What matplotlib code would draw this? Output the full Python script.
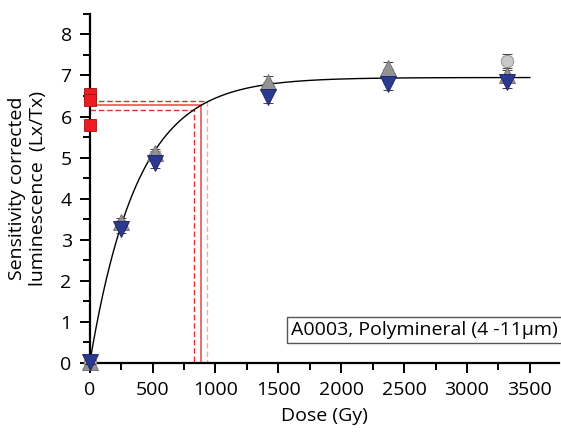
import matplotlib.pyplot as plt
import numpy as np
from matplotlib.ticker import MultipleLocator

plt.rcParams['font.family'] = ['Open Sans', 'DejaVu Sans']

# Regenerated doses (Gy) and sensitivity-corrected Lx/Tx for three aliquot groups
dose = [0, 247, 517, 1416, 2370, 3317]
grey_up = [0.03, 3.43, 5.10, 6.84, 7.17, 7.00]
grey_up_err = [0.05, 0.10, 0.12, 0.14, 0.15, 0.14]
light_circ = [0.03, 3.35, 5.05, 6.69, 7.00, 7.36]
light_circ_err = [0.05, 0.10, 0.12, 0.14, 0.15, 0.17]
navy_down = [0.02, 3.26, 4.87, 6.48, 6.80, 6.84]
navy_down_err = [0.05, 0.10, 0.12, 0.14, 0.15, 0.15]

# Natural signals (plotted at dose 0)
natural = [6.55, 6.40, 5.80]
natural_err = [0.08, 0.08, 0.08]

# Saturating exponential fit parameters
fit_a, fit_d0 = 6.95, 380.0

# Equivalent dose interpolation (Lx/Tx level and De with bounds)
ln_mid, ln_hi, ln_lo = 6.28, 6.38, 6.17
de_mid, de_lo, de_hi = 888, 830, 936

fig = plt.figure(figsize=(5.61, 4.34), dpi=100)
ax = fig.add_axes([0.160, 0.164, 0.836, 0.804])

xs = np.linspace(0, 3500, 400)
ax.plot(xs, fit_a * (1 - np.exp(-xs / fit_d0)), color='black', lw=1.0, zorder=2)

# interpolation lines
ax.plot([0, de_mid, de_mid], [ln_mid, ln_mid, 0], color='#f05050', lw=1.2, zorder=1)
ax.plot([0, de_hi], [ln_hi, ln_hi], color='#e82828', lw=1.0, ls=(0, (4, 2)), zorder=1)
ax.plot([de_hi, de_hi], [ln_hi, 0], color='#f5a8a8', lw=1.0, ls=(0, (4, 2)), zorder=1)
ax.plot([0, de_lo, de_lo], [ln_lo, ln_lo, 0], color='#e83030', lw=1.0, ls=(0, (4, 2)), zorder=1)

ebkw = dict(ls='none', capsize=3.5, elinewidth=0.8, capthick=0.9, ecolor='#222222', clip_on=False)
ax.errorbar(dose, light_circ, yerr=light_circ_err, marker='o', ms=9,
            mfc='#c8c8c8', mec='#8a8a8a', mew=0.6, zorder=3, **ebkw)
ax.errorbar(dose, grey_up, yerr=grey_up_err, marker='^', ms=12,
            mfc='#939393', mec='#6a6a6a', mew=0.6, zorder=4, **ebkw)
ax.errorbar(dose, navy_down, yerr=navy_down_err, marker='v', ms=12,
            mfc='#2b3990', mec='#1a2060', mew=0.6, zorder=5, **ebkw)
ax.errorbar([0] * len(natural), natural, yerr=natural_err, marker='s', ms=9,
            mfc='#ed1c24', mec='#a01010', mew=0.6, zorder=6, **ebkw)

ax.set_xlim(0, 3730)
ax.set_ylim(0, 8.5)
ax.xaxis.set_major_locator(MultipleLocator(500))
ax.xaxis.set_minor_locator(MultipleLocator(250))
ax.yaxis.set_major_locator(MultipleLocator(1))
ax.yaxis.set_minor_locator(MultipleLocator(0.5))
ax.tick_params(which='major', direction='out', length=7, width=1.4, labelsize=14, pad=6)
ax.tick_params(which='minor', direction='out', length=5, width=1.4)
for s in ['top', 'right']:
    ax.spines[s].set_visible(False)
for s in ['left', 'bottom']:
    ax.spines[s].set_linewidth(1.6)

ax.set_xlabel('Dose (Gy)', fontsize=14, labelpad=6)
ax.set_ylabel('Sensitivity corrected\nluminescence  (Lx/Tx)', fontsize=14,
              labelpad=10, linespacing=1.15)

ax.text(0.998, 0.094, 'A0003, Polymineral (4 -11\u00b5m)', transform=ax.transAxes,
        ha='right', va='center', fontsize=14,
        bbox=dict(boxstyle='square,pad=0.2', fc='white', ec='#555555', lw=1.0))

fig.savefig('out.png', dpi=100)
